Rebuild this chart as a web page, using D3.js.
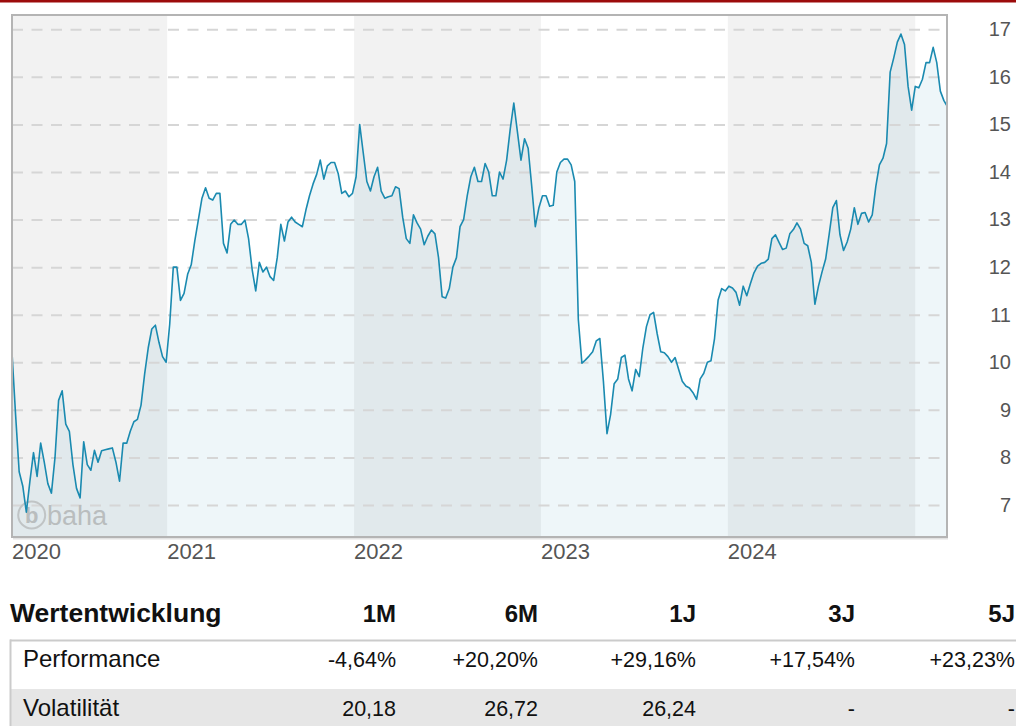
<html>
<head>
<script src="https://d3js.org/d3.v7.min.js"></script>
<title>Wertentwicklung</title>
<style>
  body { margin: 0; background: #fff; }
  svg { display: block; }
  text { font-family: "Liberation Sans", Arial, sans-serif; }
</style>
</head>
<body>
<svg id="chart" width="1016" height="726"></svg>
<script>
// weekly closing prices, first week of March 2020 to early March 2025
var prices = [
  10.2, 8.9, 7.7, 7.4, 6.85, 7.5, 8.1, 7.6, 8.3, 7.9,
  7.45, 7.25, 8.0, 9.2, 9.4, 8.7, 8.55, 7.85, 7.35, 7.15,
  8.33, 7.85, 7.73, 8.15, 7.9, 8.14, 8.16, 8.18, 8.2, 7.9,
  7.5, 8.3, 8.3, 8.55, 8.75, 8.8, 9.1, 9.75, 10.3, 10.7,
  10.78, 10.42, 10.12, 10.0, 10.8, 12.0, 12.0, 11.3, 11.45, 11.85,
  12.05, 12.55, 13.0, 13.45, 13.67, 13.45, 13.41, 13.55, 13.55, 12.5,
  12.3, 12.9, 12.99, 12.9, 12.9, 12.99, 12.6, 11.95, 11.5, 12.1,
  11.9, 12.0, 11.8, 11.72, 12.2, 12.9, 12.55, 12.95, 13.05, 12.95,
  12.9, 12.85, 13.2, 13.5, 13.75, 13.95, 14.25, 13.85, 14.13, 14.2,
  14.2, 13.97, 13.55, 13.6, 13.48, 13.55, 13.9, 15.0, 14.4, 13.8,
  13.6, 13.9, 14.1, 13.6, 13.45, 13.48, 13.5, 13.69, 13.65, 13.05,
  12.6, 12.5, 13.1, 12.93, 12.8, 12.47, 12.65, 12.78, 12.7, 12.2,
  11.38, 11.35, 11.55, 12.0, 12.2, 12.85, 13.0, 13.5, 13.9, 14.1,
  13.8, 13.8, 14.18, 14.0, 13.5, 13.5, 14.0, 13.85, 14.25, 14.9,
  15.45, 14.85, 14.25, 14.7, 14.5, 13.7, 12.85, 13.25, 13.5, 13.5,
  13.28, 13.3, 14.0, 14.2, 14.27, 14.27, 14.15, 13.8, 10.9, 9.98,
  10.05, 10.13, 10.22, 10.45, 10.5, 9.6, 8.5, 8.9, 9.55, 9.65,
  10.1, 10.15, 9.65, 9.4, 9.85, 9.7, 10.3, 10.75, 11.0, 11.05,
  10.6, 10.22, 10.2, 10.12, 10.0, 10.1, 9.85, 9.6, 9.5, 9.46,
  9.36, 9.22, 9.65, 9.77, 10.0, 10.03, 10.5, 11.31, 11.55, 11.5,
  11.6, 11.56, 11.47, 11.2, 11.6, 11.4, 11.65, 11.88, 12.02, 12.08,
  12.1, 12.17, 12.6, 12.68, 12.52, 12.37, 12.4, 12.7, 12.79, 12.93,
  12.8, 12.5, 12.45, 12.1, 11.22, 11.6, 11.9, 12.17, 12.7, 13.25,
  13.4, 12.68, 12.35, 12.53, 12.8, 13.25, 12.9, 13.13, 13.15, 12.95,
  13.1, 13.7, 14.15, 14.29, 14.6, 16.1, 16.4, 16.73, 16.9, 16.68,
  15.8, 15.3, 15.8, 15.77, 15.95, 16.3, 16.3, 16.62, 16.3, 15.7,
  15.5, 15.37
];
var firstWeek = new Date(2020, 2, 4);
var lastDay = new Date(2025, 2, 4);

var years = ["2020", "2021", "2022", "2023", "2024", "2025"];
var yearLabels = ["2020", "2021", "2022", "2023", "2024"];
var yTicks = [7, 8, 9, 10, 11, 12, 13, 14, 15, 16, 17];

var tableTitle = "Wertentwicklung";
var periods = ["1M", "6M", "1J", "3J", "5J"];
var rowNames = ["Performance", "Volatilität"];
var performance = ["-4,64%", "+20,20%", "+29,16%", "+17,54%", "+23,23%"];
var volatility = ["20,18", "26,72", "26,24", "-", "-"];

var data = prices.map(function(v, i){
  return {date: d3.timeWeek.offset(firstWeek, i), value: v};
});

var svg = d3.select("#chart");
var pL = 12, pR = 947, pT = 15, pB = 537;

var x = d3.scaleTime().domain([firstWeek, lastDay]).range([pL, pR]);
var y = d3.scaleLinear().domain([7, 17]).range([505, 29.3]);

// red strip on top
svg.append("rect").attr("x", 0).attr("y", 0).attr("width", 1016).attr("height", 2.5)
  .attr("fill", "#9c0b0b");

svg.append("clipPath").attr("id", "plot")
  .append("rect").attr("x", pL).attr("y", pT)
  .attr("width", pR - pL).attr("height", pB - pT);

var plot = svg.append("g").attr("clip-path", "url(#plot)");

plot.append("rect").attr("x", pL).attr("y", pT)
  .attr("width", pR - pL).attr("height", pB - pT).attr("fill", "#fff");

// area under the line
var area = d3.area()
  .x(function(d){ return x(d.date); })
  .y0(pB)
  .y1(function(d){ return y(d.value); });
plot.append("path").datum(data).attr("d", area).attr("fill", "#eef6f9");

// shaded years
plot.selectAll(".band")
  .data(years)
  .enter()
  .append("rect")
    .attr("class", "band")
    .attr("x", function(d){ return x(new Date(+d, 0, 1)); })
    .attr("y", pT)
    .attr("width", function(d){ return x(new Date(+d + 1, 0, 1)) - x(new Date(+d, 0, 1)); })
    .attr("height", pB - pT)
    .attr("fill", function(d, i){ return i % 2 == 0 ? "rgba(0,0,0,0.052)" : "none"; });

// dashed grid
var grid = plot.append("g")
  .attr("transform", "translate(" + pL + ",0)")
  .call(d3.axisRight(y).tickValues(yTicks).tickSize(pR - pL).tickFormat(""));
grid.select(".domain").remove();
grid.selectAll("line")
  .attr("stroke", "#d6d6d6")
  .attr("stroke-width", 2)
  .attr("stroke-dasharray", "11,8.5");

// watermark
plot.append("circle").attr("cx", 31.7).attr("cy", 515).attr("r", 13.5)
  .attr("fill", "none").attr("stroke", "#c0c4c5").attr("stroke-width", 2);
plot.append("text").attr("x", 31.7).attr("y", 523).attr("text-anchor", "middle")
  .attr("font-size", 22).attr("font-weight", "bold").attr("fill", "#b9bdbe").text("b");
plot.append("text").attr("x", 47).attr("y", 525)
  .attr("font-size", 27).attr("fill", "#b9bdbe").text("baha");

// price line
var line = d3.line()
  .x(function(d){ return x(d.date); })
  .y(function(d){ return y(d.value); });
plot.append("path").datum(data).attr("d", line)
  .attr("fill", "none")
  .attr("stroke", "#1a8ab0")
  .attr("stroke-width", 1.6)
  .attr("stroke-linejoin", "round");

// frame
svg.append("rect").attr("x", pL + 1).attr("y", pB + 1)
  .attr("width", pR - pL).attr("height", 1.5).attr("fill", "#e2e2e2");
svg.append("rect").attr("x", pL).attr("y", pT)
  .attr("width", pR - pL).attr("height", pB - pT)
  .attr("fill", "none").attr("stroke", "#b4b4b4").attr("stroke-width", 2);

// y axis on the right
var yAxis = svg.append("g")
  .attr("transform", "translate(" + pR + ",0)")
  .call(d3.axisRight(y).tickValues(yTicks).tickSize(0));
yAxis.select(".domain").remove();
yAxis.selectAll("text")
  .attr("x", 64)
  .attr("text-anchor", "end")
  .attr("font-size", 20)
  .attr("fill", "#555")
  .style("font-family", "'Liberation Sans', Arial, sans-serif");

// year labels
svg.selectAll(".year")
  .data(yearLabels)
  .enter()
  .append("text")
    .attr("class", "year")
    .attr("x", function(d){ return Math.max(pL, x(new Date(+d, 0, 1))); })
    .attr("y", 559)
    .attr("font-size", 22)
    .attr("fill", "#555")
    .text(function(d){ return d; });

// performance table
var colRight = [396, 538, 696, 855, 1015];
var tbl = svg.append("g");
tbl.append("rect").attr("x", 10).attr("y", 689).attr("width", 1006).attr("height", 37).attr("fill", "#e6e6e6");
tbl.append("rect").attr("x", 10).attr("y", 639.5).attr("width", 1006).attr("height", 2).attr("fill", "#cbcbcb");
tbl.append("rect").attr("x", 9.5).attr("y", 639.5).attr("width", 2).attr("height", 87).attr("fill", "#cbcbcb");

tbl.append("text").attr("x", 10).attr("y", 622)
  .attr("font-size", 26.5).attr("font-weight", "bold").attr("fill", "#111").text(tableTitle);

tbl.selectAll(".head")
  .data(periods)
  .enter()
  .append("text")
    .attr("x", function(d, i){ return colRight[i]; })
    .attr("y", 622)
    .attr("text-anchor", "end")
    .attr("font-size", 24)
    .attr("font-weight", "bold")
    .attr("fill", "#111")
    .text(function(d){ return d; });

var rows = [performance, volatility];
var rowBase = [667, 716];
rows.forEach(function(r, j){
  tbl.append("text").attr("x", 23).attr("y", rowBase[j])
    .attr("font-size", 24).attr("fill", "#111").text(rowNames[j]);
  tbl.selectAll(".row" + j)
    .data(r)
    .enter()
    .append("text")
      .attr("x", function(d, i){ return colRight[i]; })
      .attr("y", rowBase[j])
      .attr("text-anchor", "end")
      .attr("font-size", 21.5)
      .attr("fill", "#111")
      .text(function(d){ return d; });
});
</script>
</body>
</html>
